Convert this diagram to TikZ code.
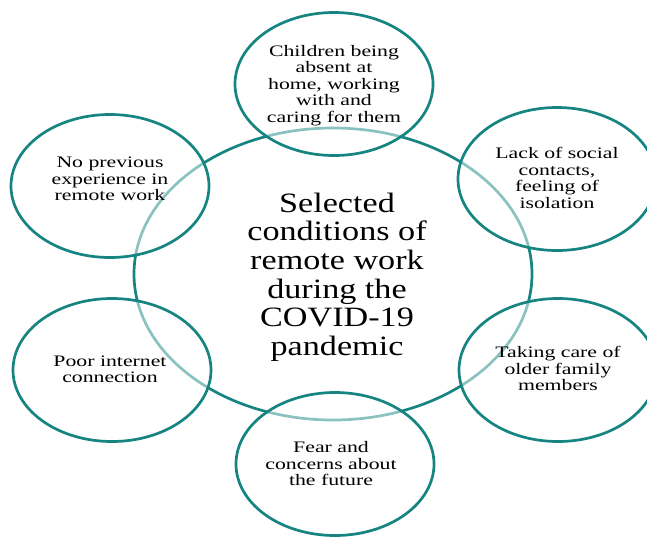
\documentclass[tikz,border=0pt]{standalone}
\usepackage{fontspec}
\setmainfont{Liberation Serif}
\usetikzlibrary{shapes.geometric}
\definecolor{teal1}{RGB}{22,133,129}
\newcommand{\smtxt}[1]{\scalebox{1.36}[1]{\rmfamily\fontsize{16}{16.5}\selectfont\begin{tabular}{@{}c@{}}#1\end{tabular}}}
\newcommand{\bigtxt}[1]{\scalebox{1.22}[1]{\rmfamily\fontsize{28}{28.6}\selectfont\begin{tabular}{@{}c@{}}#1\end{tabular}}}
\tikzset{
  bub/.style={ellipse, draw=teal1, line width=2.7pt, fill=white, fill opacity=0.5,
    minimum width=198pt, minimum height=143pt, inner sep=0pt},
  mainbub/.style={ellipse, draw=teal1, line width=2.7pt,
    minimum width=398pt, minimum height=292pt, inner sep=0pt},
  lbl/.style={inner sep=0pt, text=black, align=center}
}
\begin{document}
\begin{tikzpicture}[x=1pt,y=-1pt]
\clip (0,0) rectangle (647,536);
\fill[white] (0,0) rectangle (647,536);
\node[mainbub] (main) at (333,274) {};
\node[bub] (b1) at (334,84) {};
\node[bub] (b2) at (557,179) {};
\node[bub] (b3) at (558,370) {};
\node[bub] (b4) at (335,464) {};
\node[bub] (b5) at (112,370) {};
\node[bub] (b6) at (110,186) {};
\node[lbl] (tm) at (337,278) {\bigtxt{Selected\\conditions of\\remote work\\during the\\COVID-19\\pandemic}};
\node[lbl] (t1) at (334,86) {\smtxt{Children being\\absent at\\home, working\\with and\\caring for them}};
\node[lbl] (t2) at (557,180) {\smtxt{Lack of social\\contacts,\\feeling of\\isolation}};
\node[lbl] (t3) at (558,371) {\smtxt{Taking care of\\older family\\members}};
\node[lbl] (t4) at (331,466) {\smtxt{Fear and\\concerns about\\the future}};
\node[lbl] (t5) at (110,371) {\smtxt{Poor internet\\connection}};
\node[lbl] (t6) at (110,181) {\smtxt{No previous\\experience in\\remote work}};
\end{tikzpicture}
\end{document}
